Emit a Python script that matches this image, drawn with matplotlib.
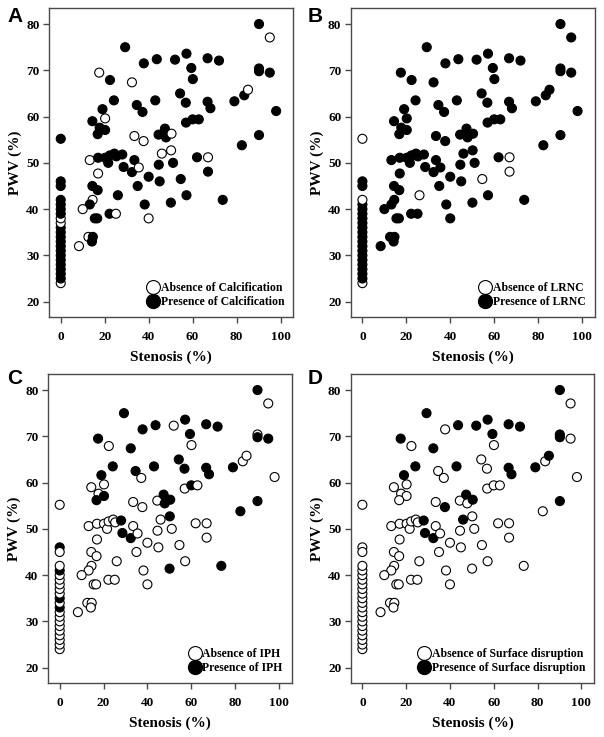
import matplotlib
matplotlib.use("Agg")
import matplotlib.pyplot as plt
from matplotlib.lines import Line2D

# Stenosis (%) and PWV (%) for each plaque, plus presence flags per feature
stenosis = [
    90.2, 95.1, 29.3, 37.8, 43.7, 52.0, 57.2, 59.4, 60.1, 66.8,
    72.0, 17.5, 22.4, 32.4, 24.2, 43.0, 19.0, 66.8, 68.1, 79.0,
    83.5, 85.2, 90.2, 90.2, 95.1, 98.0, 54.3, 56.9, 34.6, 37.2,
    14.4, 20.2, 17.7, 20.2, 16.8, 57.0, 60.0, 62.8, 90.2, 82.4,
    0.0, 33.5, 37.7, 44.5, 47.4, 47.9, 50.4, 46.0, 50.2, 13.2,
    17.0, 20.2, 21.6, 22.3, 24.4, 25.3, 28.0, 28.6, 32.4, 33.5,
    35.5, 44.6, 51.1, 62.0, 67.0, 67.0, 17.0, 40.0, 45.0, 54.6,
    0.0, 0.0, 14.4, 16.8, 35.0, 26.0, 57.2, 73.7, 14.5, 13.2,
    10.0, 38.2, 50.1, 22.2, 25.1, 15.5, 16.6, 40.0, 8.3, 12.6,
    14.6, 14.2,
    0.0, 0.0, 0.0, 0.0, 0.0, 0.0, 0.0, 0.0, 0.0, 0.0,
    0.0, 0.0, 0.0, 0.0, 0.0, 0.0, 0.0, 0.0, 0.0,
]
pwv = [
    80.0, 77.1, 75.0, 71.5, 72.4, 72.3, 73.6, 70.5, 68.1, 72.6,
    72.1, 69.5, 67.9, 67.4, 63.5, 63.5, 61.6, 63.2, 61.8, 63.3,
    64.6, 65.8, 70.4, 69.8, 69.5, 61.2, 65.0, 63.0, 62.5, 61.0,
    59.0, 59.6, 57.6, 57.1, 56.2, 58.7, 59.4, 59.4, 56.0, 53.8,
    55.2, 55.8, 54.7, 56.1, 57.4, 55.5, 56.3, 52.0, 52.7, 50.6,
    51.1, 51.1, 50.0, 51.6, 52.0, 51.4, 51.8, 49.1, 48.0, 50.6,
    49.0, 49.6, 50.0, 51.2, 51.2, 48.1, 47.7, 47.0, 46.0, 46.5,
    46.0, 45.0, 45.0, 44.1, 45.0, 43.0, 43.0, 42.0, 42.0, 41.0,
    40.0, 41.0, 41.4, 39.0, 39.0, 38.0, 38.0, 38.0, 32.0, 34.0,
    34.0, 33.0,
    24.0, 25.0, 26.0, 27.0, 28.0, 29.0, 30.0, 31.0, 32.0, 33.0,
    34.0, 35.0, 36.0, 37.0, 38.0, 39.0, 40.0, 41.0, 42.0,
]
calcification = [
    1, 0, 1, 1, 1, 1, 1, 1, 1, 1,
    1, 0, 1, 0, 1, 1, 1, 1, 1, 1,
    1, 0, 1, 1, 1, 1, 1, 1, 1, 1,
    1, 0, 1, 1, 1, 1, 1, 1, 1, 1,
    1, 0, 0, 1, 1, 1, 0, 0, 0, 0,
    1, 1, 1, 1, 1, 1, 1, 1, 1, 1,
    0, 1, 1, 1, 0, 1, 0, 1, 1, 1,
    1, 1, 1, 1, 1, 1, 1, 1, 0, 1,
    0, 1, 1, 1, 0, 1, 1, 0, 0, 0,
    1, 1,
    0, 1, 1, 1, 1, 1, 1, 1, 1, 1,
    1, 1, 1, 0, 0, 1, 1, 1, 1,
]
lrnc = [
    1, 1, 1, 1, 1, 1, 1, 1, 1, 1,
    1, 1, 1, 1, 1, 1, 1, 1, 1, 1,
    1, 1, 1, 1, 1, 1, 1, 1, 1, 1,
    1, 1, 1, 1, 1, 1, 1, 1, 1, 1,
    0, 1, 1, 1, 1, 1, 1, 1, 1, 1,
    1, 1, 1, 1, 1, 1, 1, 1, 1, 1,
    1, 1, 1, 1, 0, 0, 1, 1, 1, 0,
    1, 1, 1, 1, 1, 0, 1, 1, 1, 1,
    1, 1, 1, 1, 1, 1, 1, 1, 1, 1,
    1, 1,
    0, 1, 1, 1, 1, 1, 1, 1, 1, 1,
    1, 1, 1, 1, 1, 1, 1, 1, 0,
]
iph = [
    1, 0, 1, 1, 1, 0, 1, 1, 0, 1,
    1, 1, 0, 1, 1, 1, 1, 1, 1, 1,
    0, 0, 0, 1, 1, 0, 1, 1, 1, 0,
    0, 0, 0, 1, 1, 0, 1, 0, 1, 1,
    0, 0, 0, 0, 1, 1, 1, 0, 1, 0,
    0, 0, 0, 0, 0, 0, 1, 1, 1, 0,
    0, 0, 0, 0, 0, 0, 0, 0, 0, 0,
    1, 0, 0, 0, 0, 0, 0, 1, 0, 0,
    0, 0, 1, 0, 0, 0, 0, 0, 0, 0,
    0, 0,
    0, 0, 0, 0, 0, 0, 0, 0, 0, 1,
    0, 1, 0, 0, 0, 0, 0, 1, 0,
]
surface = [
    1, 0, 1, 0, 1, 1, 1, 1, 0, 1,
    1, 1, 0, 1, 1, 1, 1, 1, 1, 1,
    0, 1, 1, 1, 0, 0, 0, 0, 0, 0,
    0, 0, 0, 0, 0, 0, 0, 0, 1, 0,
    0, 0, 1, 0, 1, 0, 1, 1, 0, 0,
    0, 0, 0, 0, 0, 0, 1, 1, 1, 0,
    0, 0, 0, 0, 0, 0, 0, 0, 0, 0,
    0, 0, 0, 0, 0, 0, 0, 0, 0, 0,
    0, 0, 0, 0, 0, 0, 0, 0, 0, 0,
    0, 0,
    0, 0, 0, 0, 0, 0, 0, 0, 0, 0,
    0, 0, 0, 0, 0, 0, 0, 0, 0,
]

panels = [
    ("A", "Calcification", calcification),
    ("B", "LRNC", lrnc),
    ("C", "IPH", iph),
    ("D", "Surface disruption", surface),
]

W, H = 604, 737
# axes boxes in pixels: left, top, right, bottom
boxes = [
    (49.3, 8.3, 293.3, 316.7),
    (351.0, 8.3, 594.7, 316.7),
    (48.3, 374.3, 291.7, 682.7),
    (351.0, 374.3, 594.0, 682.7),
]
letter_pos = [(15, 16), (315, 16), (15, 378), (315, 378)]

serif = ["Liberation Serif", "DejaVu Serif"]
spine_col = "#4a4a4a"

fig = plt.figure(figsize=(W / 100, H / 100), dpi=100)

for (letter, feature, flags), box, lp in zip(panels, boxes, letter_pos):
    l, t, r, b = box
    ax = fig.add_axes([l / W, (H - b) / H, (r - l) / W, (b - t) / H])

    face = ["black" if f else "white" for f in flags]
    ax.scatter(stenosis, pwv, s=42, c=face, edgecolors="black",
               linewidths=0.8, zorder=3)

    ax.set_xlim(-5.2, 105.8)
    ax.set_ylim(16.75, 83.4)
    ax.set_xticks([0, 20, 40, 60, 80, 100])
    ax.set_yticks([20, 30, 40, 50, 60, 70, 80])
    for sp in ax.spines.values():
        sp.set_color(spine_col)
        sp.set_linewidth(1.0)
    ax.tick_params(direction="out", length=4, width=1, color=spine_col,
                   pad=3, labelsize=9.5)
    ax.tick_params(axis="x", pad=6)
    for lab in ax.get_xticklabels() + ax.get_yticklabels():
        lab.set_family(serif)
        lab.set_fontweight("bold")

    ax.set_xlabel("Stenosis (%)", family=serif, fontweight="bold",
                  fontsize=11, labelpad=6)
    ax.set_ylabel("PWV (%)", family=serif, fontweight="bold",
                  fontsize=11, labelpad=3)

    handles = [
        Line2D([], [], ls="none", marker="o", markersize=10,
               markerfacecolor="white", markeredgecolor="black",
               markeredgewidth=0.8),
        Line2D([], [], ls="none", marker="o", markersize=10,
               markerfacecolor="black", markeredgecolor="black"),
    ]
    ax.legend(handles, [f"Absence of {feature}", f"Presence of {feature}"],
              loc="lower right", frameon=False, handlelength=1.0,
              handletextpad=0.15, labelspacing=0.15, borderaxespad=0.35,
              prop={"family": serif, "weight": "bold", "size": 8.5})

    fig.text(lp[0] / W, 1 - lp[1] / H, letter, family=["Liberation Sans", "DejaVu Sans"],
             fontweight="bold", fontsize=15, ha="center", va="center")

fig.savefig("out.png", dpi=100)
